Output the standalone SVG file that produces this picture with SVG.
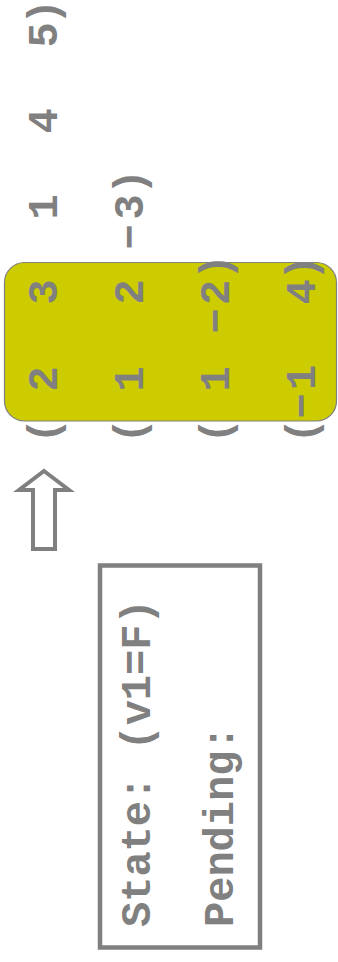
<svg xmlns="http://www.w3.org/2000/svg" width="338" height="962" viewBox="0 0 338 962">
  <style>
    .t { font-family: "Liberation Mono", "Courier New", monospace; font-size: 42px; font-weight: bold; fill: #808080; }
    .m { text-anchor: middle; }
    .box { fill: #ffffff; stroke: #808080; stroke-width: 4.5; }
    .hl { fill: #cccc00; stroke: #808080; stroke-width: 1.2; }
    .arrow { fill: #ffffff; stroke: #808080; stroke-width: 4; stroke-linejoin: miter; }
  </style>

  <!-- highlighted clause block -->
  <g id="clauses-highlight">
    <rect class="hl" x="4.5" y="262.5" width="332" height="158.5" rx="20" ry="20"/>
  </g>

  <!-- clause list, laid out along the page's long axis -->
  <g id="clauses" transform="translate(0,962) rotate(-90)">
    <text class="t m" y="57"><tspan x="531">(</tspan><tspan x="583">2</tspan><tspan x="670">3</tspan><tspan x="755">1</tspan><tspan x="841">4</tspan><tspan x="927">5</tspan><tspan x="950">)</tspan></text>
    <text class="t m" y="143"><tspan x="531">(</tspan><tspan x="583">1</tspan><tspan x="670">2</tspan><tspan x="725">−</tspan><tspan x="755">3</tspan><tspan x="780">)</tspan></text>
    <text class="t m" y="228.5"><tspan x="531">(</tspan><tspan x="583">1</tspan><tspan x="641">−</tspan><tspan x="669.5">2</tspan><tspan x="695">)</tspan></text>
    <text class="t m" y="315"><tspan x="531">(</tspan><tspan x="556">−</tspan><tspan x="584.5">1</tspan><tspan x="670">4</tspan><tspan x="694">)</tspan></text>
  </g>

  <!-- cursor arrow -->
  <g id="connectors">
    <polygon class="arrow" points="44,471 69,490 55,490 55,549 33,549 33,490 19,490"/>
  </g>

  <!-- solver state panel -->
  <g id="state">
    <rect class="box" x="100" y="565.5" width="160" height="382"/>
    <g transform="translate(0,962) rotate(-90)">
      <text class="t" x="35" y="150">State: (v1=F)</text>
      <text class="t" x="35" y="233">Pending:</text>
    </g>
  </g>
</svg>
